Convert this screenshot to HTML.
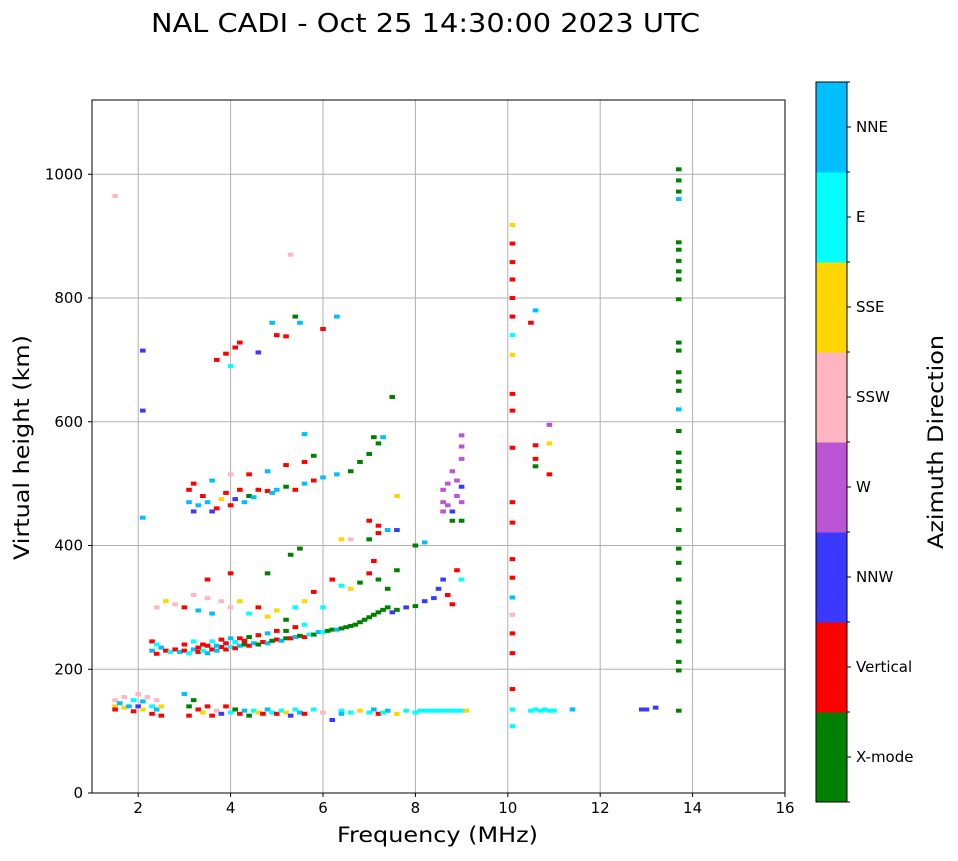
<!DOCTYPE html>
<html><head><meta charset="utf-8"><style>
body{margin:0;background:#fff;font-family:"DejaVu Sans","Liberation Sans",sans-serif}
</style></head><body>
<svg id="chart" width="958" height="857" xmlns="http://www.w3.org/2000/svg" font-family="DejaVu Sans, Liberation Sans, sans-serif">
<text x="151" y="32" font-size="26" textLength="549" lengthAdjust="spacingAndGlyphs">NAL CADI - Oct 25 14:30:00 2023 UTC</text>
<g id="grid"></g>
<g id="marks"></g>
<rect x="92" y="100" width="693" height="693" fill="none" stroke="#000" stroke-width="1"/>
<g id="axes"></g>
<text x="337" y="842" font-size="21" textLength="201" lengthAdjust="spacingAndGlyphs">Frequency (MHz)</text>
<text transform="translate(29,560) rotate(-90)" font-size="21" textLength="225" lengthAdjust="spacingAndGlyphs">Virtual height (km)</text>
<g id="cbar"></g>
<text transform="translate(943,549) rotate(-90)" font-size="21" textLength="214" lengthAdjust="spacingAndGlyphs">Azimuth Direction</text>
</svg>
<script>
const xTicks=[2,4,6,8,10,12,14,16];
const yTicks=[0,200,400,600,800,1000];
const dirNames=["X-mode","Vertical","NNW","W","SSW","SSE","E","NNE"];
const dirColors=["#008000","#ff0000","#3a3aff","#ba55d3","#ffb6c1","#ffd700","#00ffff","#00bfff"];
const freqs=[1.5,1.5,1.5,1.6,1.7,1.7,1.8,1.9,1.9,2.0,2.0,2.1,2.1,2.2,2.3,2.3,2.4,2.4,2.5,2.5,
3.0,3.1,3.1,3.2,3.3,3.4,3.5,3.6,3.7,3.8,3.9,4.0,4.1,4.2,4.3,4.4,4.5,4.6,4.7,4.8,4.9,5.0,5.1,5.2,5.3,5.4,5.5,5.6,5.8,6.0,6.2,6.4,6.4,6.6,6.8,7.0,7.1,7.2,7.3,7.4,7.6,7.8,8.0,8.1,8.2,8.3,8.4,8.5,8.6,8.7,8.8,8.9,9.0,9.1,
10.1,10.1,10.5,10.6,10.7,10.8,10.9,11.0,11.4,12.9,13.0,13.2,13.7,
2.3,2.3,2.4,2.4,2.5,2.6,2.7,2.8,2.9,3.0,3.1,3.2,3.3,3.4,3.5,3.6,3.7,3.8,3.9,4.0,4.1,4.2,4.3,4.4,4.5,4.6,4.7,4.8,4.9,5.0,5.1,5.2,5.3,5.4,5.5,5.6,5.7,5.8,5.9,6.0,6.1,6.2,6.3,6.4,6.5,6.6,6.7,6.8,6.9,7.0,7.1,7.2,7.3,7.4,7.5,7.6,7.8,8.0,8.2,8.4,8.5,8.6,8.7,8.8,8.9,9.0,
3.0,3.2,3.4,3.6,3.8,4.0,4.2,4.4,4.6,4.8,5.0,5.2,5.4,5.6,3.3,3.5,3.7,3.9,4.1,4.3,
2.4,2.6,2.8,3.0,3.2,3.3,3.5,3.6,3.8,4.0,4.2,4.4,4.6,4.8,5.0,5.2,5.4,5.6,5.8,6.0,6.2,6.4,6.6,6.8,7.0,7.1,7.2,7.4,7.6,3.5,4.0,4.8,5.5,5.3,6.4,6.6,7.0,7.2,7.6,8.0,8.2,
3.1,3.1,3.2,3.3,3.4,3.5,3.6,3.7,3.8,3.9,4.0,4.1,4.2,4.3,4.4,4.5,4.6,4.8,4.9,5.0,5.2,5.4,5.6,5.8,6.0,6.3,6.6,6.8,7.0,7.2,7.5,7.6,7.0,7.2,7.4,3.2,3.6,4.0,4.4,4.8,5.2,5.6,5.8,5.6,7.1,7.3,
8.6,8.6,8.6,8.7,8.7,8.8,8.8,8.9,8.9,9.0,9.0,9.0,9.0,9.0,8.8,9.0,
3.7,3.9,4.0,4.1,4.2,4.6,4.9,5.0,5.2,5.4,5.5,6.0,6.3,5.3,1.5,2.1,2.1,2.1,
10.1,10.1,10.1,10.1,10.1,10.1,10.1,10.1,10.1,10.1,10.1,10.1,10.1,10.1,10.1,10.1,10.1,10.1,10.1,10.1,10.5,10.6,10.6,10.6,10.6,10.9,10.9,10.9,
13.7,13.7,13.7,13.7,13.7,13.7,13.7,13.7,13.7,13.7,13.7,13.7,13.7,13.7,13.7,13.7,13.7,13.7,13.7,13.7,13.7,13.7,13.7,13.7,13.7,13.7,13.7,13.7,13.7,13.7,13.7,13.7,13.7,13.7];
const heights=[150,140,135,145,155,138,140,150,132,160,140,148,135,155,140,128,150,135,140,125,
160,140,125,150,135,130,140,125,133,128,140,130,135,128,133,125,133,130,128,135,130,128,133,130,125,135,130,128,135,130,118,133,128,130,133,130,135,128,130,133,128,133,130,133,133,133,133,133,133,133,133,133,133,133,
135,108,133,135,133,135,133,133,135,135,135,138,133,
245,230,240,225,235,230,228,232,228,230,226,232,228,230,226,232,230,236,232,236,234,238,240,238,242,240,244,242,246,248,246,250,250,252,254,252,256,256,260,260,262,264,264,266,268,270,272,276,280,284,288,292,296,300,292,296,300,302,310,315,330,345,320,305,360,345,
240,245,240,245,248,250,250,252,255,258,262,262,268,272,235,238,238,242,244,246,
300,310,305,300,320,295,315,290,310,300,310,290,300,285,295,280,300,310,325,300,345,335,330,340,355,375,345,330,360,345,355,355,395,385,410,410,410,420,425,400,405,
490,470,455,465,480,470,455,460,475,485,465,475,490,470,480,478,490,488,485,490,495,490,500,505,510,515,520,535,548,565,640,480,440,432,425,500,505,515,515,520,530,535,545,580,575,575,
490,470,455,500,465,440,520,505,480,540,560,578,470,440,455,495,
700,710,690,720,728,712,760,740,738,770,760,750,770,870,965,715,618,445,
918,888,858,830,800,770,740,708,645,618,558,470,437,378,348,316,288,258,226,168,760,780,562,540,528,565,595,515,
1008,990,972,960,890,878,860,843,830,798,728,715,680,665,650,620,585,550,535,520,505,493,458,425,395,372,345,308,292,278,262,245,212,198];
const dirs=[4,5,1,7,4,5,7,6,1,4,2,7,5,4,6,1,4,7,5,1,
7,0,1,0,1,5,1,1,4,2,1,6,0,1,7,0,6,5,1,7,6,1,6,5,2,6,7,1,6,4,2,6,7,6,5,6,7,1,6,7,5,6,6,6,6,6,6,6,6,6,6,6,6,5,
6,6,6,6,6,6,6,6,7,2,2,2,0,
1,7,6,1,7,1,6,1,7,1,6,7,1,6,7,1,7,1,1,6,1,7,0,1,7,0,1,7,0,1,7,0,1,7,0,1,6,0,7,6,0,0,7,0,0,0,0,0,0,0,0,0,0,0,2,0,2,0,2,2,2,2,1,1,1,6,
1,6,1,6,1,7,1,0,1,7,1,0,1,6,1,1,7,1,6,1,
4,5,4,1,4,7,4,7,4,4,5,6,1,5,5,0,6,5,1,6,1,6,5,0,1,1,0,0,0,1,1,0,0,0,5,4,0,1,2,0,7,
1,7,2,7,1,7,2,1,5,1,1,2,1,7,0,7,1,1,7,7,0,1,7,1,7,7,0,0,0,0,0,5,1,1,7,1,7,4,1,7,1,1,0,7,0,7,
3,3,3,3,3,0,3,3,3,3,3,3,3,0,2,2,
1,1,6,1,1,2,7,1,1,0,7,1,7,4,4,2,2,7,
5,1,1,1,1,1,6,5,1,1,1,1,1,1,1,7,4,1,1,1,1,7,1,1,0,5,3,1,
0,0,0,7,0,0,0,0,0,0,0,0,0,0,0,7,0,0,0,0,0,0,0,0,0,0,0,0,0,0,0,0,0,0];

const NS="http://www.w3.org/2000/svg";
const X0=92,X1=785,Y0=793,Y1=100,FMIN=1,FMAX=16,HMIN=0,HMAX=1120;
function xs(f){return X0+(f-FMIN)/(FMAX-FMIN)*(X1-X0);}
function ys(h){return Y0-(h-HMIN)/(HMAX-HMIN)*(Y0-Y1);}
function mk(t,a,p){const e=document.createElementNS(NS,t);for(const k in a)e.setAttribute(k,a[k]);p.appendChild(e);return e;}
const grid=document.getElementById('grid'),axes=document.getElementById('axes'),marks=document.getElementById('marks'),cbar=document.getElementById('cbar');
xTicks.forEach(t=>{const x=xs(t);
 const g=mk('line',{x1:x,x2:x,y1:Y1,y2:Y0,stroke:'#b0b0b0','stroke-width':1},grid);
 
 
 mk('line',{x1:x,x2:x,y1:Y0,y2:Y0+4,stroke:'#000'},axes);
 const l=mk('text',{x:x,y:Y0+20,'font-size':15,'text-anchor':'middle'},axes);l.textContent=t;
 
 });
yTicks.forEach(t=>{const y=ys(t);
 const g=mk('line',{x1:X0,x2:X1,y1:y,y2:y,stroke:'#b0b0b0','stroke-width':1},grid);
 
 
 mk('line',{x1:X0-4,x2:X0,y1:y,y2:y,stroke:'#000'},axes);
 const l=mk('text',{x:X0-9,y:y+5,'font-size':15,'text-anchor':'end'},axes);l.textContent=t;
 
 });
for(let i=0;i<freqs.length;i++){
 const r=mk('rect',{x:xs(freqs[i])-2.8,y:ys(heights[i])-2,width:5.6,height:4,fill:dirColors[dirs[i]]},marks);
 
 }
const CX=816,CW=31,CT=82,CB=802,n=dirNames.length,seg=(CB-CT)/n;
dirNames.forEach((nm,i)=>{const y=CB-(i+1)*seg;
 const r=mk('rect',{x:CX,y:y,width:CW,height:seg+0.5,fill:dirColors[i]},cbar);
 
 
 const yc=y+seg/2;
 mk('line',{x1:CX+CW,x2:CX+CW+4,y1:yc,y2:yc,stroke:'#000'},cbar);
 const l=mk('text',{x:CX+CW+9,y:yc+5,'font-size':15},cbar);l.textContent=nm;
 
 });
for(let i=0;i<=n;i++){const y=CB-i*seg;mk('line',{x1:CX+CW,x2:CX+CW+3,y1:y,y2:y,stroke:'#000'},cbar);}
mk('rect',{x:CX,y:CT,width:CW,height:CB-CT,fill:'none',stroke:'#000'},cbar);
</script>
</body></html>
